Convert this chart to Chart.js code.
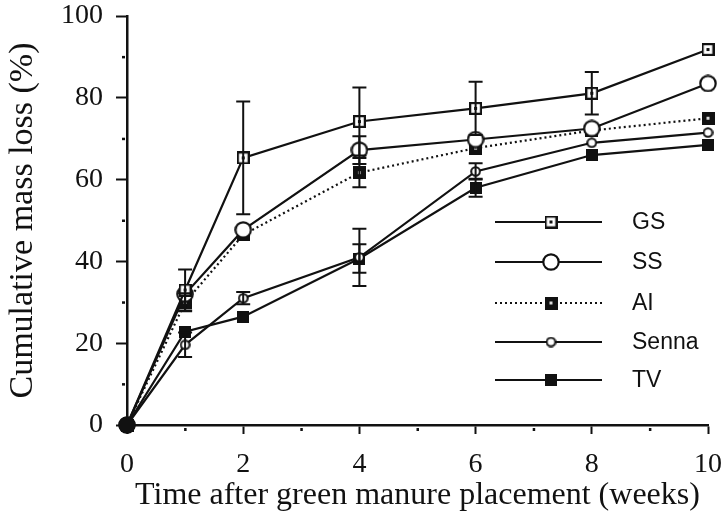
<!DOCTYPE html>
<html>
<head>
<meta charset="utf-8">
<script src="https://cdn.jsdelivr.net/npm/chart.js@4"></script>
<style>
  html, body { margin: 0; padding: 0; background: #fff; }
  #wrap { width: 727px; height: 518px; }
</style>
</head>
<body>
<div id="wrap"><canvas id="c" width="727" height="518"></canvas></div>
<script>
// weeks after placement
const weeks = [0, 1, 2, 4, 6, 8, 10];

// cumulative mass loss (%)
const gs    = [0, 33, 65.3, 74.2, 77.4, 81.1, 91.8];
const ss    = [0, 32, 47.7, 67.2, 69.8, 72.5, 83.5];
const ai    = [0, 30, 46.5, 61.7, 67.7, 72, 75];
const senna = [0, 19.6, 31, 41, 62, 69, 71.5];
const tv    = [0, 22.8, 26.5, 40.7, 58, 66, 68.5];

// error bars (+/-)
const gsErr    = [0, 5, 13.8, 8.3, 6.5, 5.2, 0];
const ssErr    = [0, 0, 0, 3.4, 0, 0, 0];
const aiErr    = [0, 2.2, 0, 3.6, 0, 0, 0];
const sennaErr = [0, 3, 1.5, 7, 2, 0, 0];
const tvErr    = [0, 0, 0, 3.5, 2.2, 0, 0];

const seriesNames = ["GS", "SS", "AI", "Senna", "TV"];

const INK = "#111";

function marker(size, draw) {
  const c = document.createElement("canvas");
  c.width = size; c.height = size;
  draw(c.getContext("2d"), size);
  return c;
}

const mGS = marker(13, (g, s) => {
  g.fillStyle = "#fff"; g.fillRect(0, 0, s, s);
  g.strokeStyle = INK; g.lineWidth = 2.2; g.strokeRect(1.1, 1.1, s - 2.2, s - 2.2);
  g.fillStyle = INK; g.fillRect(5, 5, 3, 3);
});
const mSS = marker(18, (g, s) => {
  g.beginPath(); g.arc(s / 2, s / 2, s / 2 - 1.3, 0, Math.PI * 2);
  g.fillStyle = "#fff"; g.fill();
  g.strokeStyle = INK; g.lineWidth = 2.2; g.stroke();
});
const mAI = marker(13, (g, s) => {
  g.fillStyle = INK; g.fillRect(0, 0, s, s);
  g.fillStyle = "#ddd"; g.fillRect(5, 5, 3, 3);
});
const mSenna = marker(11, (g, s) => {
  g.beginPath(); g.arc(s / 2, s / 2, s / 2 - 1.2, 0, Math.PI * 2);
  g.fillStyle = "#fff"; g.fill();
  g.strokeStyle = INK; g.lineWidth = 2; g.stroke();
});
const mTV = marker(12, (g, s) => {
  g.fillStyle = INK; g.fillRect(0, 0, s, s);
});
const mOrigin = marker(18, (g, s) => {
  g.beginPath(); g.arc(s / 2, s / 2, s / 2 - 0.5, 0, Math.PI * 2);
  g.fillStyle = INK; g.fill();
});

const markers = [mGS, mSS, mAI, mSenna, mTV];
const values = [gs, ss, ai, senna, tv];
const errors = [gsErr, ssErr, aiErr, sennaErr, tvErr];

function pts(arr) {
  return weeks.map((w, i) => ({ x: w, y: arr[i] }));
}

const datasets = seriesNames.map((name, k) => ({
  label: name,
  data: pts(values[k]),
  borderColor: INK,
  borderWidth: 2.2,
  borderDash: name === "AI" ? [2, 3] : [],
  pointStyle: weeks.map((w, i) => (i === 0 && k === 0 ? mOrigin : markers[k])),
  pointRadius: 7,
  pointHoverRadius: 7,
  tension: 0,
  clip: false,
  errors: errors[k]
}));

// error bars with caps
const errorBars = {
  id: "errorBars",
  afterDatasetsDraw(chart) {
    const { ctx, scales: { x, y } } = chart;
    ctx.save();
    ctx.strokeStyle = INK;
    ctx.lineWidth = 2;
    chart.data.datasets.forEach(ds => {
      ds.errors.forEach((e, i) => {
        if (!e) return;
        const px = x.getPixelForValue(weeks[i]);
        const top = y.getPixelForValue(ds.data[i].y + e);
        const bot = y.getPixelForValue(ds.data[i].y - e);
        ctx.beginPath();
        ctx.moveTo(px, top); ctx.lineTo(px, bot);
        ctx.moveTo(px - 7, top); ctx.lineTo(px + 7, top);
        ctx.moveTo(px - 7, bot); ctx.lineTo(px + 7, bot);
        ctx.stroke();
      });
    });
    ctx.restore();
  }
};

// small dot ticks at odd values
const minorTicks = {
  id: "minorTicks",
  afterDraw(chart) {
    const { ctx, scales: { x, y } } = chart;
    ctx.save();
    ctx.fillStyle = INK;
    for (let v = 10; v < 100; v += 20) {
      const py = y.getPixelForValue(v);
      ctx.fillRect(y.right - 5, py - 1, 3, 2.5);
    }
    for (let w = 1; w < 10; w += 2) {
      const px = x.getPixelForValue(w);
      ctx.fillRect(px - 1, x.top + 3, 2.5, 3);
    }
    ctx.restore();
  }
};

// legend drawn inside the plot, line + marker + label
const insideLegend = {
  id: "insideLegend",
  afterDraw(chart) {
    const { ctx } = chart;
    const rows = [222, 262, 303, 342, 380];
    ctx.save();
    chart.data.datasets.forEach((ds, k) => {
      const yy = rows[k];
      ctx.strokeStyle = INK;
      ctx.lineWidth = 2.2;
      ctx.setLineDash(ds.label === "AI" ? [2, 3] : []);
      ctx.beginPath(); ctx.moveTo(495, yy); ctx.lineTo(602, yy); ctx.stroke();
      const m = markers[k];
      ctx.drawImage(m, 551 - m.width / 2, yy - m.height / 2);
      ctx.fillStyle = INK;
      ctx.font = "23px 'Liberation Sans', Arial, sans-serif";
      ctx.textBaseline = "middle";
      ctx.fillText(ds.label, 632, yy + 1);
    });
    ctx.restore();
  }
};

const serif = "'Liberation Serif', 'Times New Roman', serif";

new Chart(document.getElementById("c"), {
  type: "line",
  data: { datasets },
  options: {
    responsive: false,
    animation: false,
    devicePixelRatio: 1,
    layout: { padding: { left: 0, right: 19, top: 16, bottom: 0 } },
    plugins: { legend: { display: false }, tooltip: { enabled: false } },
    scales: {
      x: {
        type: "linear",
        min: 0, max: 10,
        afterFit: s => { s.height = 93; s.paddingLeft = 0; s.paddingRight = 0; },
        border: { color: INK, width: 2.5 },
        grid: {
          drawOnChartArea: false,
          tickLength: 9,
          tickWidth: 2,
          tickColor: c => (c.tick && c.tick.value % 2 === 0 ? INK : "rgba(0,0,0,0)")
        },
        ticks: {
          stepSize: 1,
          maxRotation: 0,
          padding: 14,
          color: INK,
          font: { family: serif, size: 28 },
          callback: v => (v % 2 === 0 ? v : "")
        },
        title: {
          display: true,
          text: "Time after green manure placement (weeks)",
          color: INK,
          font: { family: serif, size: 32 },
          padding: { top: 0, bottom: 3 }
        }
      },
      y: {
        min: 0, max: 100,
        afterFit: s => { s.width = 127; s.paddingTop = 0; s.paddingBottom = 0; },
        border: { color: INK, width: 2.5 },
        grid: {
          drawOnChartArea: false,
          tickLength: 11,
          tickWidth: 2,
          tickColor: c => (c.tick && c.tick.value % 20 === 0 ? INK : "rgba(0,0,0,0)")
        },
        ticks: {
          stepSize: 10,
          padding: 13,
          color: INK,
          font: { family: serif, size: 28 },
          callback: v => (v % 20 === 0 ? v : "")
        },
        title: {
          display: true,
          text: "Cumulative mass loss (%)",
          color: INK,
          font: { family: serif, size: 34 },
          padding: { top: 3, bottom: 3 }
        }
      }
    }
  },
  plugins: [errorBars, minorTicks, insideLegend]
});
</script>
</body>
</html>
